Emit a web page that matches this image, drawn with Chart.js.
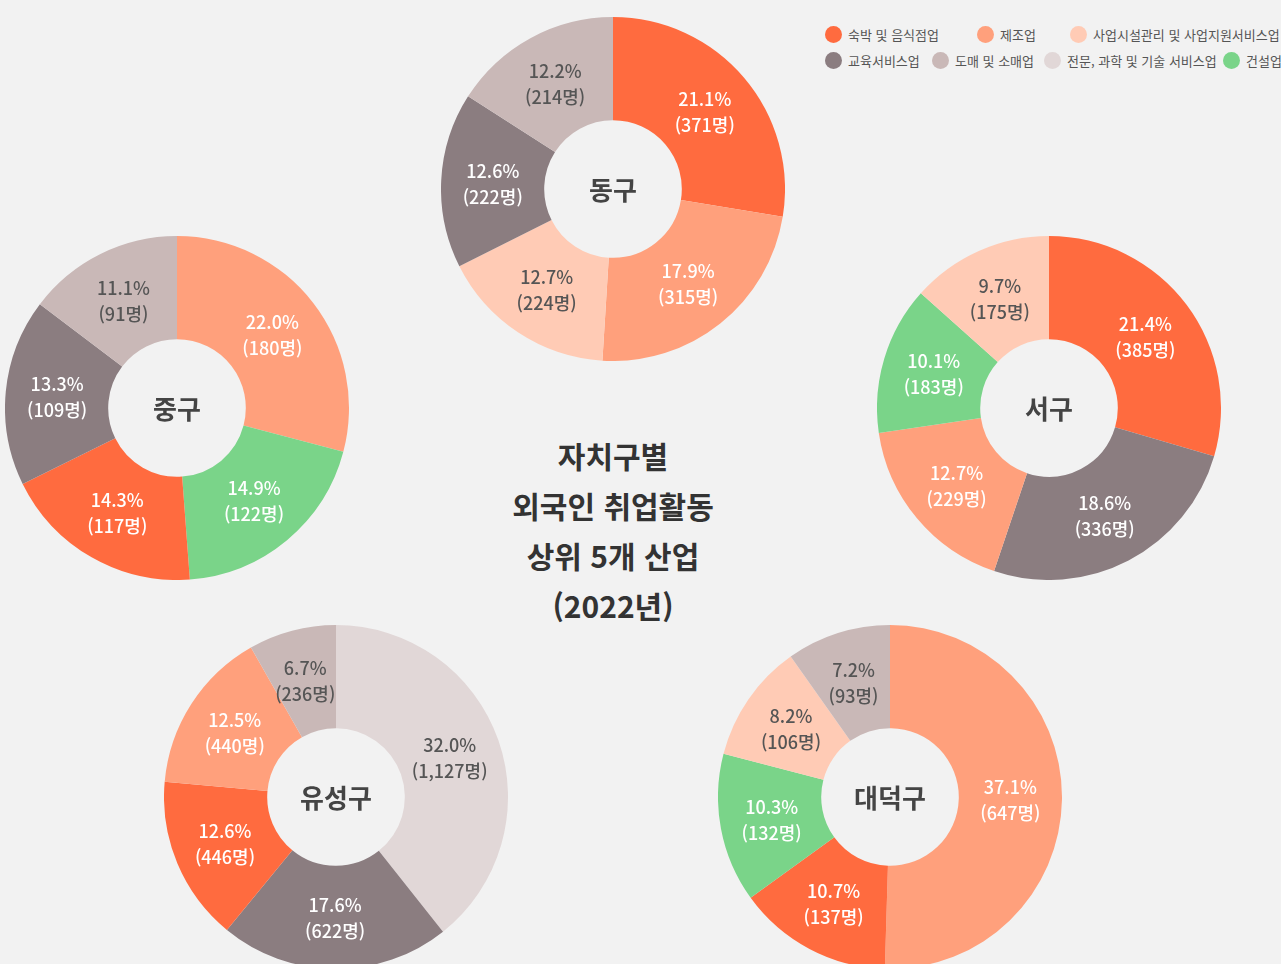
<!DOCTYPE html>
<html lang="ko">
<head>
<meta charset="utf-8">
<title>자치구별 외국인 취업활동 상위 5개 산업 (2022년)</title>
<script src="https://cdn.jsdelivr.net/npm/chart.js@4/dist/chart.umd.min.js"></script>
<style>
    html, body {
        margin: 0;
        padding: 0;
        width: 1281px;
        height: 964px;
        overflow: hidden;
        background: #f2f2f2;
        font-family: "Noto Sans CJK KR", "Noto Sans", sans-serif;
    }
    .pie {
        position: absolute;
        width: 344px;
        height: 344px;
    }
    .title {
        position: absolute;
        left: 413px;
        top: 430px;
        width: 400px;
        text-align: center;
        font-size: 30px;
        font-weight: 700;
        line-height: 50px;
        color: #333;
    }
    .legend {
        position: absolute;
        left: 0;
        top: 0;
        font-size: 13px;
        color: #555;
        white-space: nowrap;
    }
    .legend__item {
        position: absolute;
        display: flex;
        align-items: center;
        height: 20px;
    }
    .legend__dot {
        width: 17px;
        height: 17px;
        border-radius: 50%;
        margin-right: 6px;
    }
</style>
</head>
<body>
<div class="legend" id="legend"></div>

<div class="title">자치구별<br>외국인 취업활동<br>상위 5개 산업<br>(2022년)</div>

<div class="pie" style="left:441px; top:17px;"><canvas id="chart-donggu"></canvas></div>
<div class="pie" style="left:5px; top:236px;"><canvas id="chart-junggu"></canvas></div>
<div class="pie" style="left:877px; top:236px;"><canvas id="chart-seogu"></canvas></div>
<div class="pie" style="left:164px; top:625px;"><canvas id="chart-yuseonggu"></canvas></div>
<div class="pie" style="left:718px; top:625px;"><canvas id="chart-daedeokgu"></canvas></div>

<script>
// 산업 분류
const industries = ['숙박 및 음식점업', '제조업', '사업시설관리 및 사업지원서비스업',
    '교육서비스업', '도매 및 소매업', '전문, 과학 및 기술 서비스업', '건설업'];
const industryColors = ['#ff6b3f', '#ffa07c', '#ffcbb5', '#8b7d80', '#c9b8b7', '#e1d7d7', '#7ad489'];
// 밝은 조각에는 어두운 글씨
const darkText = ['사업시설관리 및 사업지원서비스업', '도매 및 소매업', '전문, 과학 및 기술 서비스업'];

// 동구
const dongguIndustries = ['숙박 및 음식점업', '제조업', '사업시설관리 및 사업지원서비스업', '교육서비스업', '도매 및 소매업'];
const dongguPercents = [21.1, 17.9, 12.7, 12.6, 12.2];
const dongguCounts = [371, 315, 224, 222, 214];

// 중구
const jungguIndustries = ['제조업', '건설업', '숙박 및 음식점업', '교육서비스업', '도매 및 소매업'];
const jungguPercents = [22.0, 14.9, 14.3, 13.3, 11.1];
const jungguCounts = [180, 122, 117, 109, 91];

// 서구
const seoguIndustries = ['숙박 및 음식점업', '교육서비스업', '제조업', '건설업', '사업시설관리 및 사업지원서비스업'];
const seoguPercents = [21.4, 18.6, 12.7, 10.1, 9.7];
const seoguCounts = [385, 336, 229, 183, 175];

// 유성구
const yuseongguIndustries = ['전문, 과학 및 기술 서비스업', '교육서비스업', '숙박 및 음식점업', '제조업', '도매 및 소매업'];
const yuseongguPercents = [32.0, 17.6, 12.6, 12.5, 6.7];
const yuseongguCounts = [1127, 622, 446, 440, 236];

// 대덕구
const daedeokguIndustries = ['제조업', '숙박 및 음식점업', '건설업', '사업시설관리 및 사업지원서비스업', '도매 및 소매업'];
const daedeokguPercents = [37.1, 10.7, 10.3, 8.2, 7.2];
const daedeokguCounts = [647, 137, 132, 106, 93];

// 범례 (두 줄)
const legendRows = [
    ['숙박 및 음식점업', '제조업', '사업시설관리 및 사업지원서비스업'],
    ['교육서비스업', '도매 및 소매업', '전문, 과학 및 기술 서비스업', '건설업']
];
const legendLefts = [[825, 977, 1070], [825, 932, 1044, 1223]];
const legendTops = [24, 50];
const legendEl = document.getElementById('legend');
legendRows.forEach((row, r) => {
    row.forEach((name, i) => {
        const item = document.createElement('div');
        item.className = 'legend__item';
        item.style.left = legendLefts[r][i] + 'px';
        item.style.top = legendTops[r] + 'px';
        const dot = document.createElement('span');
        dot.className = 'legend__dot';
        dot.style.background = industryColors[industries.indexOf(name)];
        const text = document.createElement('span');
        text.textContent = name;
        item.appendChild(dot);
        item.appendChild(text);
        legendEl.appendChild(item);
    });
});

// 조각 라벨 + 가운데 이름
const donutLabels = {
    id: 'donutLabels',
    afterDatasetsDraw(chart, args, opts) {
        const ctx = chart.ctx;
        const meta = chart.getDatasetMeta(0);
        const values = chart.data.datasets[0].data;
        ctx.save();
        ctx.textAlign = 'center';
        ctx.textBaseline = 'middle';
        meta.data.forEach((arc, i) => {
            const p = arc.tooltipPosition();
            const name = opts.names[i];
            ctx.fillStyle = darkText.includes(name) ? '#555555' : '#ffffff';
            ctx.font = '500 18px "Noto Sans CJK KR"';
            ctx.fillText(values[i].toFixed(1) + '%', p.x, p.y - 12);
            ctx.fillText('(' + opts.counts[i].toLocaleString('en-US') + '명)', p.x, p.y + 14);
        });
        const c = meta.data[0];
        ctx.fillStyle = '#444444';
        ctx.font = '700 26px "Noto Sans CJK KR"';
        ctx.fillText(opts.title, c.x, c.y + 1);
        ctx.restore();
    }
};

function makeDonut(id, title, names, percents, counts) {
    const ctx = document.getElementById(id).getContext('2d');
    return new Chart(ctx, {
        type: 'doughnut',
        data: {
            labels: names,
            datasets: [{
                data: percents,
                backgroundColor: names.map(n => industryColors[industries.indexOf(n)]),
                borderWidth: 0
            }]
        },
        options: {
            responsive: true,
            maintainAspectRatio: false,
            animation: false,
            cutout: '40%',
            layout: { padding: 0 },
            plugins: {
                legend: { display: false },
                tooltip: { enabled: false },
                donutLabels: { title: title, names: names, counts: counts }
            }
        },
        plugins: [donutLabels]
    });
}

makeDonut('chart-donggu', '동구', dongguIndustries, dongguPercents, dongguCounts);
makeDonut('chart-junggu', '중구', jungguIndustries, jungguPercents, jungguCounts);
makeDonut('chart-seogu', '서구', seoguIndustries, seoguPercents, seoguCounts);
makeDonut('chart-yuseonggu', '유성구', yuseongguIndustries, yuseongguPercents, yuseongguCounts);
makeDonut('chart-daedeokgu', '대덕구', daedeokguIndustries, daedeokguPercents, daedeokguCounts);
</script>
</body>
</html>
